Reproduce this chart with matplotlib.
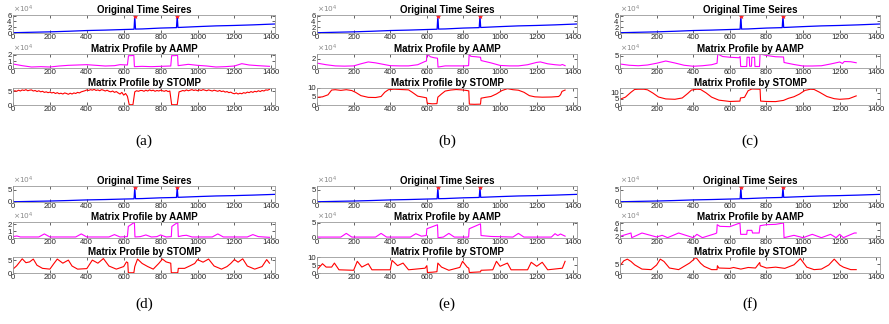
import numpy as np
import matplotlib
matplotlib.use("Agg")
import matplotlib.pyplot as plt

plt.rcParams["font.family"] = ["Liberation Sans", "DejaVu Sans"]

W, H = 889, 324

# ---- original time series (same in every panel), values x1e4 ----
TS_X = [0, 100, 200, 300, 400, 500, 600, 656, 660, 664, 700, 800, 886, 890, 894,
        1000, 1100, 1200, 1300, 1418]
TS_Y = [0.1, 0.25, 0.4, 0.6, 0.85, 1.0, 1.2, 1.3, 5.9, 1.35, 1.4, 1.7, 1.85, 5.9, 1.9,
        2.2, 2.45, 2.6, 2.8, 3.1]
ANOM_X = [660, 890]
ANOM_Y = [5.9, 5.9]

# ---- (a) ----
AAMP_A_X = [0, 50, 100, 150, 200, 250, 300, 350, 400, 450, 500, 550, 580, 620, 626, 640,
            655, 658, 700, 750, 800, 855, 860, 875, 892, 895, 950, 1000, 1050, 1100,
            1150, 1200, 1240, 1280, 1330, 1390]
AAMP_A_Y = [0.6, 0.35, 0.15, 0.2, 0.15, 0.3, 0.4, 0.45, 0.5, 0.4, 0.3, 0.35, 0.5, 0.45,
            1.85, 1.85, 1.9, 0.2, 0.25, 0.2, 0.25, 0.3, 1.85, 1.85, 1.9, 0.35, 0.55, 0.4,
            0.3, 0.15, 0.2, 0.3, 0.65, 0.45, 0.35, 0.25]
STOMP_A_X = np.arange(0, 1400, 10)
STOMP_A_Y = [4.9, 5.2, 5.0, 5.4, 5.1, 5.5, 5.3, 5.6, 5.2, 5.4,
             5.5, 5.1, 5.3, 4.9, 5.2, 4.8, 5.0, 4.6, 4.8, 4.5,
             4.7, 4.4, 4.6, 4.2, 4.5, 4.1, 4.3, 4.0, 4.4, 4.2,
             3.9, 4.3, 4.0, 4.4, 4.2, 4.6, 4.4, 4.8, 5.0, 5.2,
             5.5, 5.3, 5.6, 5.4, 5.7, 5.3, 5.5, 5.2, 5.6, 5.4,
             5.1, 5.4, 5.0, 4.8, 5.1, 4.6, 4.9, 4.4, 4.0, 4.6,
             3.6, 4.2, 3.2, 0.1, 0.1, 0.1, 4.8, 5.2, 5.0, 5.3,
             5.3, 5.0, 5.4, 5.1, 5.5, 5.2, 5.4, 5.0, 5.3, 5.1,
             5.4, 5.2, 5.0, 5.3, 4.9, 5.1, 0.1, 0.1, 0.1, 0.1,
             4.8, 5.0, 5.3, 5.1, 5.5, 5.2, 5.4, 5.6, 5.3, 5.5,
             5.2, 5.5, 5.3, 5.6, 5.4, 5.2, 5.5, 5.3, 5.1, 5.4,
             5.2, 5.0, 5.3, 4.9, 5.1, 4.7, 4.9, 4.5, 4.7, 4.3,
             4.1, 4.4, 4.0, 4.3, 4.1, 4.5, 4.3, 4.7, 4.5, 4.9,
             4.6, 5.0, 4.8, 5.2, 4.9, 5.3, 5.1, 5.5, 5.4, 5.7]

# ---- (b) ----
AAMP_B_X = [0, 50, 100, 150, 200, 240, 280, 320, 360, 400, 450, 500, 550, 590, 598, 600,
            620, 640, 658, 661, 700, 750, 800, 828, 831, 840, 870, 893, 896, 950, 1000,
            1050, 1100, 1150, 1200, 1220, 1260, 1300, 1330, 1340, 1355]
AAMP_B_Y = [1.05, 0.7, 0.45, 0.4, 0.45, 0.9, 1.3, 1.1, 0.8, 0.5, 0.45, 0.45, 0.7, 1.4,
            1.5, 3.0, 2.4, 2.2, 2.1, 0.2, 0.45, 0.45, 0.45, 0.5, 3.0, 2.5, 2.4, 2.3, 1.6,
            1.1, 0.55, 0.45, 0.45, 0.7, 1.2, 1.3, 0.9, 0.7, 0.6, 0.75, 0.5]
STOMP_B_X = [0, 30, 60, 80, 100, 130, 160, 190, 210, 240, 280, 320, 350, 370, 390, 420,
             460, 500, 520, 550, 580, 598, 602, 630, 655, 660, 680, 700, 730, 760, 790,
             820, 829, 832, 860, 893, 896, 920, 950, 980, 1010, 1040, 1070, 1100, 1130,
             1160, 1190, 1230, 1280, 1320, 1330, 1338, 1355]
STOMP_B_Y = [4.5, 4.8, 6.0, 8.8, 9.0, 8.6, 9.0, 8.5, 7.5, 5.5, 4.5, 4.4, 5.0, 7.5, 9.0,
             9.3, 9.1, 8.9, 7.5, 5.2, 4.6, 4.2, 1.0, 0.7, 0.8, 4.6, 6.5, 8.2, 8.8, 9.1,
             8.9, 8.5, 8.3, 0.5, 0.4, 0.5, 4.0, 4.5, 5.0, 6.5, 8.5, 9.6, 9.0, 8.7, 7.5,
             5.5, 4.8, 4.6, 4.7, 5.0, 6.0, 8.0, 8.8]

# ---- (c) ----
AAMP_C_X = [0, 50, 100, 150, 200, 250, 300, 350, 400, 450, 500, 530, 534, 560, 600, 650,
            656, 659, 692, 694, 706, 708, 718, 720, 735, 737, 762, 765, 800, 850, 893,
            896, 950, 1000, 1050, 1100, 1150, 1200, 1215, 1225, 1260, 1290]
AAMP_C_Y = [1.6, 1.1, 0.9, 1.2, 1.9, 2.8, 2.0, 1.1, 0.7, 0.9, 1.3, 1.9, 5.6, 4.6, 4.3,
            4.1, 4.6, 0.6, 0.6, 4.3, 4.3, 0.7, 0.7, 4.3, 4.3, 0.6, 0.6, 5.6, 5.0, 4.5,
            4.4, 2.2, 1.4, 0.8, 0.8, 0.9, 1.6, 2.4, 1.8, 2.6, 2.5, 2.1]
STOMP_C_X = [0, 30, 60, 80, 100, 130, 150, 180, 210, 250, 300, 340, 370, 390, 420, 440,
             470, 500, 540, 600, 655, 658, 680, 700, 720, 765, 768, 800, 850, 893, 920,
             950, 980, 1010, 1040, 1060, 1090, 1130, 1170, 1200, 1250, 1290]
STOMP_C_Y = [4.7, 6.5, 10.5, 12.8, 13.0, 13.0, 12.5, 9.8, 6.6, 5.0, 4.7, 5.8, 9.5, 12.3,
             13.0, 12.8, 10.0, 6.5, 4.0, 2.9, 3.2, 5.8, 6.3, 11.8, 13.2, 13.0, 3.2, 2.9,
             2.8, 3.8, 5.5, 6.8, 9.0, 12.0, 13.0, 12.8, 10.5, 7.0, 5.2, 4.7, 5.2, 7.5]

# ---- (d) ----
AAMP_D_X = [0, 20, 40, 140, 170, 200, 340, 370, 400, 520, 550, 580, 620, 625, 658, 661,
            690, 720, 750, 780, 800, 830, 858, 861, 893, 896, 920, 940, 970, 1080, 1110,
            1140, 1270, 1300, 1330, 1390]
AAMP_D_Y = [0.2, 0.3, 0.15, 0.15, 0.6, 0.15, 0.15, 0.6, 0.15, 0.15, 0.5, 0.15, 0.2, 1.7,
            2.3, 0.15, 0.2, 0.45, 0.15, 0.2, 0.45, 0.15, 0.2, 1.7, 2.3, 0.2, 0.35, 0.4,
            0.15, 0.15, 0.6, 0.15, 0.15, 0.5, 0.2, 0.1]
STOMP_D_X = [0, 20, 50, 70, 90, 110, 130, 160, 200, 220, 240, 270, 300, 320, 350, 400,
             430, 460, 490, 520, 560, 600, 615, 622, 625, 655, 660, 675, 700, 730, 760,
             790, 810, 830, 855, 858, 893, 896, 930, 960, 985, 1000, 1030, 1060, 1090,
             1130, 1160, 1180, 1200, 1220, 1245, 1270, 1310, 1350, 1375, 1390]
STOMP_D_Y = [1.5, 2.8, 5.5, 4.0, 4.3, 5.4, 3.0, 1.8, 1.5, 3.5, 5.4, 3.8, 5.0, 2.7, 1.5,
             1.7, 5.0, 3.8, 5.6, 2.7, 1.5, 2.5, 4.3, 4.0, 0.1, 0.1, 2.5, 5.4, 3.7, 2.5,
             1.5, 3.7, 5.4, 4.3, 3.8, 0.1, 0.1, 1.8, 1.8, 2.8, 3.7, 5.2, 4.2, 5.4, 2.7,
             1.5, 2.5, 3.7, 5.2, 4.2, 5.5, 2.7, 1.5, 2.5, 5.2, 3.8]

# ---- (e) ----
AAMP_E_X = [0, 130, 160, 190, 320, 350, 380, 510, 540, 570, 597, 600, 658, 661, 690, 720,
            750, 828, 831, 893, 896, 950, 1070, 1100, 1130, 1280, 1300, 1315, 1330, 1355]
AAMP_E_Y = [0.3, 0.3, 1.5, 0.3, 0.3, 1.5, 0.3, 0.3, 1.4, 0.6, 0.8, 3.0, 4.3, 0.1, 0.3,
            1.5, 0.3, 0.3, 3.0, 4.6, 0.8, 0.5, 0.3, 1.5, 0.3, 0.3, 1.4, 0.8, 1.3, 0.6]
STOMP_E_X = [0, 30, 50, 80, 95, 120, 200, 220, 245, 280, 300, 400, 410, 440, 470, 500,
             590, 600, 603, 630, 655, 660, 680, 720, 780, 795, 820, 829, 832, 860, 893,
             896, 960, 980, 1000, 1040, 1060, 1150, 1170, 1200, 1230, 1260, 1340, 1355]
STOMP_E_Y = [2.0, 5.8, 3.7, 3.7, 6.2, 2.0, 1.7, 7.3, 3.7, 5.8, 2.0, 2.0, 7.9, 4.6, 6.2,
             2.0, 3.0, 4.6, 0.3, 0.5, 0.8, 6.2, 3.7, 1.7, 3.5, 7.3, 3.7, 3.0, 0.3, 0.5,
             0.7, 1.7, 2.0, 7.3, 4.2, 6.2, 2.0, 2.0, 6.7, 4.2, 6.7, 2.0, 3.0, 7.3]

# ---- (f) ----
AAMP_F_X = [0, 60, 64, 120, 200, 230, 260, 320, 400, 420, 450, 520, 528, 531, 545, 600,
            655, 659, 692, 695, 720, 724, 760, 765, 800, 850, 893, 896, 950, 1000, 1050,
            1100, 1150, 1180, 1200, 1220, 1280, 1290]
AAMP_F_Y = [2.0, 3.0, 1.6, 3.0, 1.8, 2.3, 1.6, 3.0, 1.6, 2.6, 1.6, 2.8, 3.0, 5.5, 5.0,
            4.9, 6.0, 2.6, 2.6, 3.8, 3.8, 3.0, 3.0, 5.2, 5.5, 5.6, 6.0, 1.6, 2.3, 1.6,
            2.6, 1.6, 2.6, 1.6, 2.6, 1.6, 3.0, 3.0]
STOMP_F_X = [0, 20, 40, 60, 80, 120, 170, 200, 220, 240, 270, 320, 380, 415, 440, 460,
             500, 530, 532, 540, 600, 620, 660, 700, 740, 763, 766, 800, 850, 900, 950,
             985, 1020, 1060, 1100, 1140, 1170, 1200, 1220, 1260, 1290]
STOMP_F_Y = [4.1, 6.8, 7.8, 6.5, 4.6, 2.2, 1.9, 4.5, 7.8, 6.5, 2.8, 1.9, 5.6, 8.7, 5.5,
             3.7, 1.9, 1.9, 4.1, 2.8, 2.6, 3.1, 2.2, 3.1, 2.8, 5.9, 4.1, 2.8, 3.3, 2.6,
             4.6, 8.1, 3.3, 1.9, 2.2, 4.5, 7.8, 4.5, 3.3, 1.9, 1.9]

PANELS = [
    # label, aamp, aamp ylim, aamp ticks, stomp, stomp ylim, stomp ticks
    ("(a)", (AAMP_A_X, AAMP_A_Y), (0, 2.1), [0, 1, 2],
     (STOMP_A_X, STOMP_A_Y), (0, 6.2), [0, 5]),
    ("(b)", (AAMP_B_X, AAMP_B_Y), (0, 3.0), [0, 2],
     (STOMP_B_X, STOMP_B_Y), (0, 10), [0, 5, 10]),
    ("(c)", (AAMP_C_X, AAMP_C_Y), (0, 5.6), [0, 5],
     (STOMP_C_X, STOMP_C_Y), (0, 14), [0, 5, 10]),
    ("(d)", (AAMP_D_X, AAMP_D_Y), (0, 2.35), [0, 1, 2],
     (STOMP_D_X, STOMP_D_Y), (0, 6.2), [0, 5]),
    ("(e)", (AAMP_E_X, AAMP_E_Y), (0, 5.2), [0, 5],
     (STOMP_E_X, STOMP_E_Y), (0, 10), [0, 5, 10]),
    ("(f)", (AAMP_F_X, AAMP_F_Y), (1.5, 6.3), [2, 4, 6],
     (STOMP_F_X, STOMP_F_Y), (0, 9), [0, 5]),
]

COLS = [(13, 275), (317, 577), (620, 880)]
ROWS = [[(15, 33), (54, 68), (88, 105)],
        [(186, 202), (222, 238), (257, 273)]]
LABEL_Y = [141, 304]
TS_YLIM = [(0, 6.2), (0, 6.5)]
TS_TICKS = [[0, 2, 4, 6], [0, 5]]

SPINE = "#9a9a9a"
TXT = "#262626"


def px_axes(fig, x0, x1, y0, y1):
    return fig.add_axes([x0 / W, 1 - y1 / H, (x1 - x0) / W, (y1 - y0) / H])


def style(ax, title, yl, yt, sci=False):
    ax.set_xlim(0, 1420)
    ax.set_xticks(range(0, 1401, 200))
    ax.set_ylim(*yl)
    ax.set_yticks(yt)
    ax.tick_params(direction="in", length=2, width=0.5, labelsize=5.6,
                   pad=1, colors=TXT, top=True, right=True)
    for s in ax.spines.values():
        s.set_color(SPINE)
        s.set_linewidth(0.6)
    ax.set_title(title, fontsize=7, fontweight="bold", pad=1.5, color="black")
    if sci:
        ax.text(0, 1.0, r"$\times10^4$", transform=ax.transAxes, fontsize=5.3,
                color="#8a8a8a", ha="left", va="bottom")


fig = plt.figure(figsize=(W / 100, H / 100), dpi=100)

for i, (lab, aamp, a_lim, a_tk, stomp, s_lim, s_tk) in enumerate(PANELS):
    r, c = divmod(i, 3)
    x0, x1 = COLS[c]
    (t0, t1), (m0, m1), (b0, b1) = ROWS[r]

    ax = px_axes(fig, x0, x1, t0, t1)
    ax.plot(TS_X, TS_Y, color="#0000ff", lw=0.9)
    ax.plot(ANOM_X, ANOM_Y, "*", color="#ff2020", ms=3.5, mew=0.5)
    style(ax, "Original Time Seires", TS_YLIM[r], TS_TICKS[r], sci=True)

    ax = px_axes(fig, x0, x1, m0, m1)
    ax.plot(aamp[0], aamp[1], color="#ff00ff", lw=0.8)
    style(ax, "Matrix Profile by AAMP", a_lim, a_tk, sci=True)

    ax = px_axes(fig, x0, x1, b0, b1)
    ax.plot(stomp[0], stomp[1], color="#ff0000", lw=0.8)
    style(ax, "Matrix Profile by STOMP", s_lim, s_tk)

    fig.text((x0 + x1) / 2 / W, 1 - LABEL_Y[r] / H, lab, ha="center", va="center",
             fontsize=11, family="Liberation Serif")

fig.savefig("out.png", dpi=100)
